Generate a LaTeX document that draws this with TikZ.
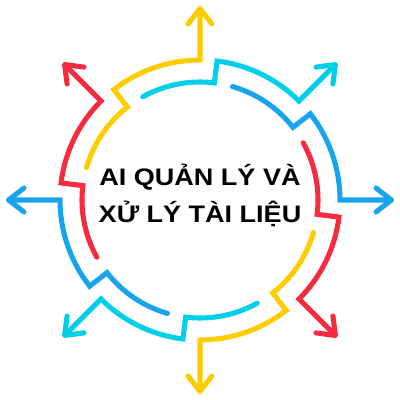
\documentclass[tikz,border=0pt]{standalone}
\usepackage{fontspec}
\setmainfont{Liberation Sans}
\newfontfamily\titlefont{Liberation Sans}[FakeStretch=1.13]
\usetikzlibrary{arrows.meta}
\definecolor{yel}{HTML}{FFCC00}
\definecolor{cy}{HTML}{00CFE8}
\definecolor{blu}{HTML}{18A4EC}
\definecolor{rd}{HTML}{F62B3F}
\begin{document}
\begin{tikzpicture}[x=0.025cm,y=0.025cm,
  seg/.style={line width=3.6pt, line cap=round, line join=miter,
    -{Straight Barb[length=11pt,width=17pt,round]}}]
\useasboundingbox (-200,-200) rectangle (200,200);
\foreach \t/\c in {90/yel,45/cy,0/blu,-45/rd,-90/yel,-135/cy,180/blu,135/rd} {
  \draw[seg,\c] ({\t+74}:118) arc[start angle={\t+74},end angle={\t+38},radius=118]
    -- ({\t+38}:140) arc[start angle={\t+38},end angle=\t,radius=140] -- (\t:194);
}
\node[font=\titlefont\bfseries\fontsize{17}{26.3}\selectfont, align=center] (title) at (0,5)
  {AI QUẢN LÝ VÀ\\XỬ LÝ TÀI LIỆU};
\end{tikzpicture}
\end{document}
